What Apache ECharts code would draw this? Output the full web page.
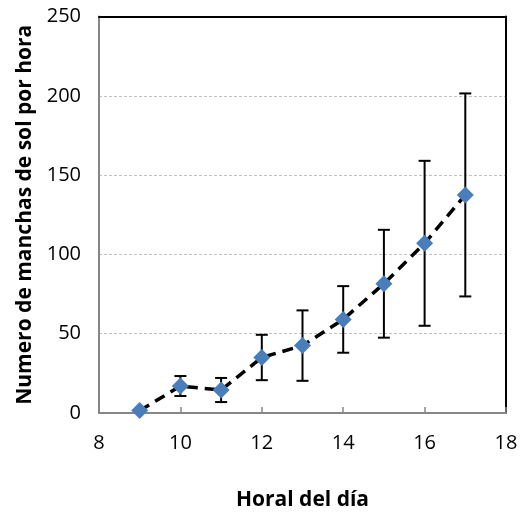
<!DOCTYPE html>
<html>
<head>
<meta charset="utf-8">
<script src="https://cdn.jsdelivr.net/npm/echarts@6/dist/echarts.min.js"></script>
<style>html,body{margin:0;padding:0;background:#fff}#c{width:526px;height:518px}</style>
</head>
<body>
<div id="c"></div>
<script>
var hours = [9, 10, 11, 12, 13, 14, 15, 16, 17];
var meanSpots = [1.5, 17, 14.5, 35, 42.5, 59, 81.5, 107, 137.5];
var errSpots = [0, 6.3, 7.6, 14.3, 22.2, 21, 34, 52, 64];
var xTicks = [8, 10, 12, 14, 16, 18];
var yTicks = [0, 50, 100, 150, 200, 250];

var font = '"Open Sans", Lato, sans-serif';
var lineData = hours.map(function (h, i) { return [h, meanSpots[i]]; });
var errData = hours.map(function (h, i) { return [h, meanSpots[i] - errSpots[i], meanSpots[i] + errSpots[i]]; });

var xMin = xTicks[0], xMax = xTicks[xTicks.length - 1];
var yMin = yTicks[0], yMax = yTicks[yTicks.length - 1];

var chart = echarts.init(document.getElementById('c'), null, { renderer: 'canvas' });
chart.setOption({
  backgroundColor: '#fff',
  animation: false,
  grid: { left: 99, right: 20, top: 16.5, bottom: 105 },
  xAxis: [{
    type: 'value', min: xMin, max: xMax, interval: 2,
    name: 'Horal del día', nameLocation: 'middle', nameGap: 77,
    nameTextStyle: { fontFamily: font, fontWeight: 'bold', fontSize: 21, color: '#000' },
    axisLine: { show: true, onZero: false, lineStyle: { color: '#868686', width: 2 } },
    axisTick: { show: true, inside: true, length: 6, lineStyle: { color: '#868686', width: 1.5 } },
    axisLabel: { fontFamily: font, fontSize: 20, color: '#000', margin: 20 },
    splitLine: { show: false }
  }, {
    type: 'value', position: 'top', min: xMin, max: xMax, interval: 2,
    axisLine: { show: true, onZero: false, lineStyle: { color: '#000', width: 2 } },
    axisTick: { show: false }, axisLabel: { show: false }, splitLine: { show: false }
  }],
  yAxis: [{
    type: 'value', min: yMin, max: yMax, interval: 50,
    name: 'Numero de manchas de sol por hora', nameLocation: 'middle', nameGap: 62,
    nameTextStyle: { fontFamily: font, fontWeight: 'bold', fontSize: 21, color: '#000' },
    axisLine: { show: true, onZero: false, lineStyle: { color: '#868686', width: 2 } },
    axisTick: { show: false },
    axisLabel: { fontFamily: font, fontSize: 20, color: '#000', margin: 18 },
    splitLine: { show: true, lineStyle: { color: '#c0c0c0', type: [3, 2], width: 1 } }
  }, {
    type: 'value', position: 'right', min: yMin, max: yMax, interval: 50,
    axisLine: { show: true, onZero: false, lineStyle: { color: '#000', width: 2 } },
    axisTick: { show: false }, axisLabel: { show: false }, splitLine: { show: false }
  }],
  series: [
    {
      type: 'custom',
      data: errData,
      z: 3,
      renderItem: function (params, api) {
        var x = api.value(0);
        var lo = api.coord([x, api.value(1)]);
        var hi = api.coord([x, api.value(2)]);
        if (Math.abs(hi[1] - lo[1]) < 1) return null;
        var hw = 6;
        var st = { stroke: '#000', lineWidth: 2 };
        return {
          type: 'group',
          children: [
            { type: 'line', shape: { x1: lo[0], y1: lo[1], x2: hi[0], y2: hi[1] }, style: st },
            { type: 'line', shape: { x1: lo[0] - hw, y1: lo[1], x2: lo[0] + hw, y2: lo[1] }, style: st },
            { type: 'line', shape: { x1: hi[0] - hw, y1: hi[1], x2: hi[0] + hw, y2: hi[1] }, style: st }
          ]
        };
      }
    },
    {
      type: 'line',
      data: lineData,
      z: 4,
      symbol: 'diamond',
      symbolSize: 17,
      itemStyle: { color: '#4A7EBB' },
      lineStyle: { color: '#000', width: 3.5, type: [11, 7] }
    }
  ]
});
</script>
</body>
</html>
